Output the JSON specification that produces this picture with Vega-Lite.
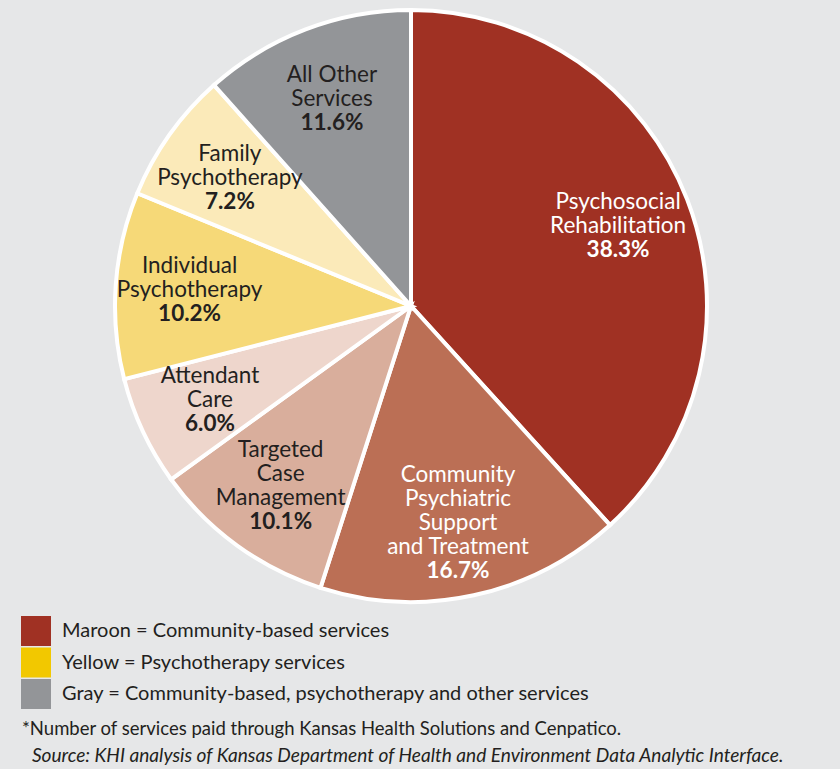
{
  "$schema": "https://vega.github.io/schema/vega-lite/v6.json",
  "width": 822,
  "height": 612,
  "autosize": {"type": "none"},
  "padding": {"left": 0, "top": 0, "right": 18, "bottom": 157},
  "background": "#e6e7e8",
  "config": {"view": {"stroke": null}, "font": "Lato"},
  "title": {
    "text": "*Number of services paid through Kansas Health Solutions and Cenpatico.",
    "subtitle": "\u200b\u2002\u200aSource: KHI analysis of Kansas Department of Health and Environment Data Analytic Interface.",
    "orient": "bottom",
    "anchor": "start",
    "frame": "group",
    "dx": 22,
    "offset": 11,
    "font": "Lato",
    "fontSize": 18.5,
    "fontWeight": "normal",
    "color": "#231f20",
    "subtitleFont": "Lato",
    "subtitleFontSize": 19.1,
    "subtitleFontStyle": "italic",
    "subtitleColor": "#231f20",
    "subtitlePadding": 8
  },
  "data": {
    "values": [
      {"order": 1, "service": "Psychosocial Rehabilitation", "label": "Psychosocial\nRehabilitation", "share": 38.3},
      {"order": 2, "service": "Community Psychiatric Support and Treatment", "label": "Community\nPsychiatric\nSupport\nand Treatment", "share": 16.7},
      {"order": 3, "service": "Targeted Case Management", "label": "Targeted\nCase\nManagement", "share": 10.1},
      {"order": 4, "service": "Attendant Care", "label": "Attendant\nCare", "share": 6.0},
      {"order": 5, "service": "Individual Psychotherapy", "label": "Individual\nPsychotherapy", "share": 10.2},
      {"order": 6, "service": "Family Psychotherapy", "label": "Family\nPsychotherapy", "share": 7.2},
      {"order": 7, "service": "All Other Services", "label": "All Other\nServices", "share": 11.6}
    ]
  },
  "layer": [
    {
      "mark": {"type": "arc", "outerRadius": 296, "stroke": "white", "strokeWidth": 4},
      "encoding": {
        "theta": {"field": "share", "type": "quantitative", "stack": true},
        "order": {"field": "order", "type": "quantitative"},
        "color": {
          "field": "service",
          "type": "nominal",
          "scale": {
            "domain": ["Psychosocial Rehabilitation", "Community Psychiatric Support and Treatment", "Targeted Case Management", "Attendant Care", "Individual Psychotherapy", "Family Psychotherapy", "All Other Services"],
            "range": ["#a03123", "#bb6f55", "#d9ae9c", "#eed6cc", "#f6d978", "#fbeab9", "#939598"]
          },
          "legend": null
        }
      }
    },
    {
      "mark": {"type": "text", "radius": 222, "fontSize": 22.5, "lineHeight": 24, "lineBreak": "\n", "align": "center", "baseline": "middle", "font": "Lato",
        "dy": {"expr": "-length(split(datum.label, '\\n')) * 12"}},
      "encoding": {
        "theta": {"field": "share", "type": "quantitative", "stack": true},
        "order": {"field": "order", "type": "quantitative"},
        "text": {"field": "label", "type": "nominal"},
        "color": {"condition": {"test": "datum.order <= 2", "value": "white"}, "value": "#231f20"}
      }
    },
    {
      "transform": [{"calculate": "format(datum.share, '.1f') + '%'", "as": "pctText"}],
      "mark": {"type": "text", "radius": 222, "fontSize": 22.5, "align": "center", "baseline": "middle", "font": "Lato", "fontWeight": "bold",
        "dy": {"expr": "length(split(datum.label, '\\n')) * 12"}},
      "encoding": {
        "theta": {"field": "share", "type": "quantitative", "stack": true},
        "order": {"field": "order", "type": "quantitative"},
        "text": {"field": "pctText", "type": "nominal"},
        "color": {"condition": {"test": "datum.order <= 2", "value": "white"}, "value": "#231f20"}
      }
    },
    {
      "data": {
        "values": [
          {"group": "Maroon = Community-based services"},
          {"group": "Yellow = Psychotherapy services"},
          {"group": "Gray = Community-based, psychotherapy and other services"}
        ]
      },
      "mark": {"type": "point", "filled": true, "opacity": 0},
      "encoding": {
        "fill": {
          "field": "group",
          "type": "nominal",
          "scale": {
            "domain": ["Maroon = Community-based services", "Yellow = Psychotherapy services", "Gray = Community-based, psychotherapy and other services"],
            "range": ["#a03123", "#f2c800", "#939598"]
          },
          "legend": {
            "orient": "none",
            "legendX": 21,
            "legendY": 616,
            "title": null,
            "padding": 0,
            "symbolType": "square",
            "symbolSize": 900,
            "symbolOpacity": 1,
            "symbolStrokeWidth": 0,
            "labelFont": "Lato",
            "labelFontSize": 20,
            "labelColor": "#231f20",
            "labelOffset": 11,
            "labelLimit": 800,
            "rowPadding": 1.5
          }
        }
      }
    }
  ]
}
